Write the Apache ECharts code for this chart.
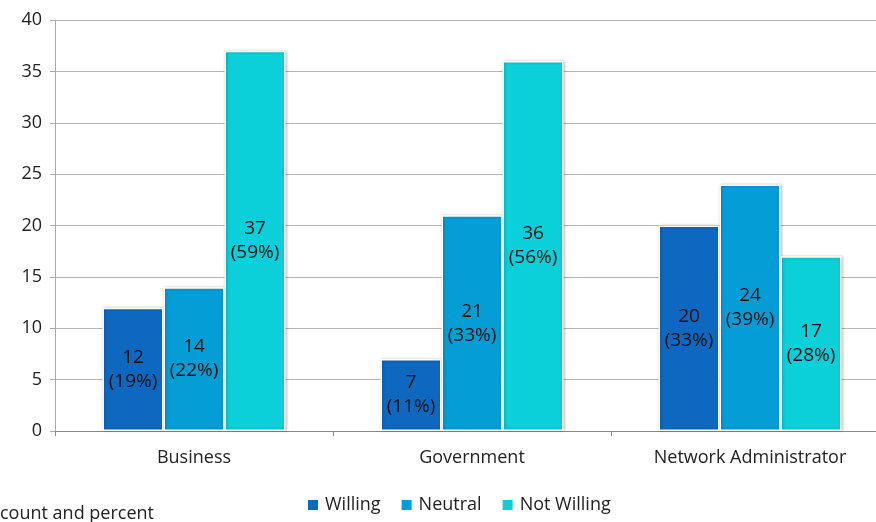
<!DOCTYPE html>
<html><head><meta charset="utf-8">
<script src="https://cdn.jsdelivr.net/npm/echarts@6/dist/echarts.min.js"></script>
<style>html,body{margin:0;padding:0;background:#fff}#c{width:876px;height:522px}</style>
</head><body><div id="c"></div>
<script>
var categories = ['Business', 'Government', 'Network Administrator'];
var seriesNames = ['Willing', 'Neutral', 'Not Willing'];
var willing = [12, 7, 20];
var neutral = [14, 21, 24];
var notWilling = [37, 36, 17];
var willingPct = [19, 11, 33];
var neutralPct = [22, 33, 39];
var notWillingPct = [59, 56, 28];
var yTicks = [0, 5, 10, 15, 20, 25, 30, 35, 40];
var colors = ['#0f68c0', '#049dd6', '#0bcfd9'];
var FONT = '"Open Sans", sans-serif';

function mk(name, vals, pcts, color) {
  return {
    name: name, type: 'bar', data: vals, barWidth: 61, barGap: '0%',
    itemStyle: { color: color, borderColor: '#fff', borderWidth: 1.5,
      shadowBlur: 3, shadowColor: 'rgba(0,0,0,0.25)', shadowOffsetX: 1, shadowOffsetY: 0 },
    label: { show: true, position: 'inside', fontFamily: FONT, fontSize: 19, color: '#111', lineHeight: 24,
      formatter: function (p) { return vals[p.dataIndex] + '\n(' + pcts[p.dataIndex] + '%)'; } }
  };
}

var chart = echarts.init(document.getElementById('c'));
chart.setOption({
  animation: false,
  textStyle: { fontFamily: FONT },
  grid: { left: 55, width: 834, top: 20, height: 411, containLabel: false, outerBoundsMode: 'none' },
  legend: { left: 303, top: 491, itemWidth: 10, itemHeight: 10, itemGap: 21, icon: 'rect',
    itemStyle: { borderWidth: 0, shadowBlur: 0, shadowOffsetX: 0 },
    textStyle: { fontFamily: FONT, fontSize: 18, color: '#222', padding: [0, 0, 0, 2] }, data: seriesNames },
  graphic: [{ type: 'text', left: 0, top: 505, style: { text: 'count and percent', font: '18px ' + FONT, fill: '#222' } }],
  xAxis: { type: 'category', data: categories,
    axisLine: { lineStyle: { color: '#888', width: 1 } },
    axisTick: { show: true, length: 5, lineStyle: { color: '#888' } },
    axisLabel: { fontFamily: FONT, fontSize: 18, color: '#222', margin: 18 } },
  yAxis: { type: 'value', min: 0, max: 40, interval: 5,
    axisLine: { show: true, lineStyle: { color: '#aaa' } },
    axisTick: { show: true, length: 5, lineStyle: { color: '#aaa' } },
    splitLine: { lineStyle: { color: '#b5b5b5', width: 1 } },
    axisLabel: { fontFamily: FONT, fontSize: 18, color: '#222', margin: 13,
      formatter: function (v) { return yTicks.indexOf(v) >= 0 ? String(v) : ''; } } },
  series: [
    mk(seriesNames[0], willing, willingPct, colors[0]),
    mk(seriesNames[1], neutral, neutralPct, colors[1]),
    mk(seriesNames[2], notWilling, notWillingPct, colors[2])
  ]
});
</script></body></html>
